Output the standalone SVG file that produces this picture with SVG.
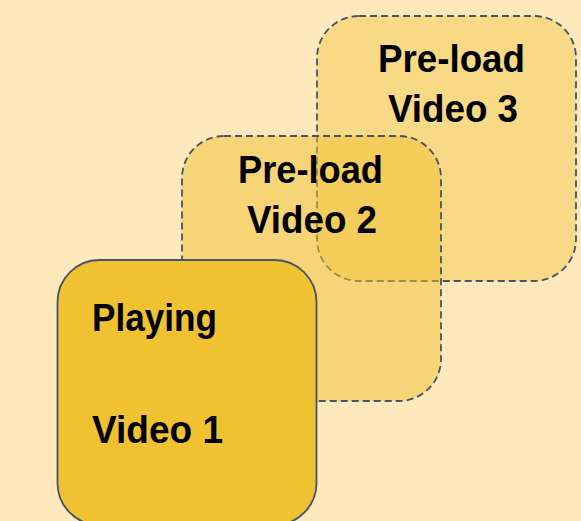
<svg xmlns="http://www.w3.org/2000/svg" width="581" height="521" viewBox="0 0 581 521">
<style>
.box{stroke:#44546A;stroke-width:1.8}
.dash{stroke-dasharray:7 4}
.lbl{font-family:"Liberation Sans",Arial,sans-serif;font-weight:bold;font-size:39px;fill:#000}
</style>
<rect width="581" height="521" fill="#FEE8BC"/>
<g id="video3">
<rect class="box dash" x="317" y="16" width="259" height="265" rx="42" fill="#F0C232" fill-opacity="0.4"/>
<text class="lbl" x="378" y="72" textLength="147" lengthAdjust="spacingAndGlyphs">Pre-load</text>
<text class="lbl" x="388" y="122" textLength="130" lengthAdjust="spacingAndGlyphs">Video 3</text>
</g>
<g id="video2">
<rect class="box dash" x="182" y="136" width="259" height="265" rx="42" fill="#F0C232" fill-opacity="0.5"/>
<text class="lbl" x="238" y="183" textLength="145" lengthAdjust="spacingAndGlyphs">Pre-load</text>
<text class="lbl" x="247" y="233" textLength="130" lengthAdjust="spacingAndGlyphs">Video 2</text>
</g>
<g id="video1">
<rect class="box" x="57.5" y="260" width="259" height="265" rx="42" fill="#F0C232"/>
<text class="lbl" x="92" y="331" textLength="125" lengthAdjust="spacingAndGlyphs">Playing</text>
<text class="lbl" x="92" y="443" textLength="131" lengthAdjust="spacingAndGlyphs">Video 1</text>
</g>
<g id="connectors"/>
</svg>
